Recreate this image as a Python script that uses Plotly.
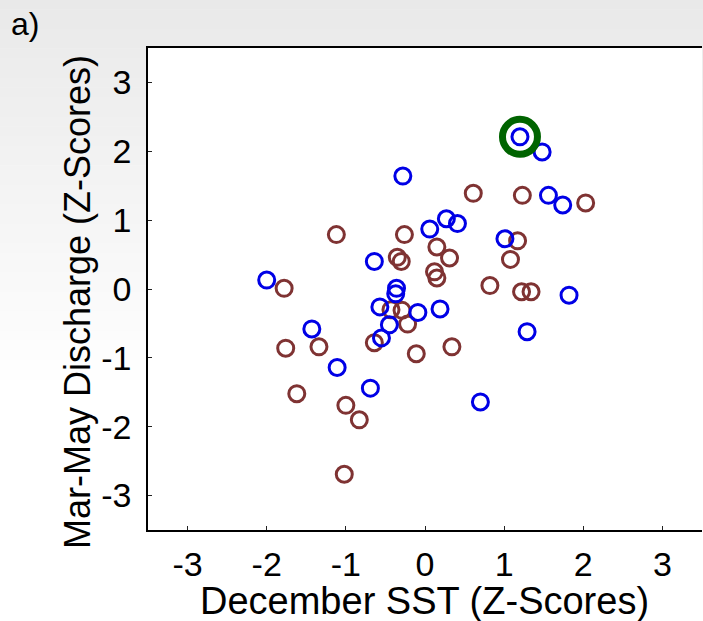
import plotly.graph_objects as go

# Data
blue_x = [1.20, 1.48, 1.56, 1.74, -0.28, 0.06, 0.27, 0.41, 1.01, -0.64, -2.00, -0.36,
          -0.37, -0.57, -0.09, 0.19, -0.45, -0.55, -1.43, -1.11, -0.69, 0.70, 1.29, 1.82]
blue_y = [2.21, 1.99, 1.36, 1.22, 1.64, 0.87, 1.02, 0.95, 0.73, 0.40, 0.13, 0.01,
          -0.07, -0.26, -0.34, -0.29, -0.52, -0.71, -0.58, -1.14, -1.44, -1.64, -0.62, -0.09]

brown_x = [-1.12, -0.26, 0.61, 1.23, 2.03, 0.15, 0.31, -0.35, -0.30, 0.12, 0.15, 1.17,
           1.08, -1.78, 0.82, 1.22, 1.34, -0.43, -0.29, -0.22, -0.64, -0.11, 0.34, -1.76,
           -1.34, -1.62, -1.00, -0.83, -1.02]
brown_y = [0.79, 0.79, 1.39, 1.36, 1.25, 0.61, 0.45, 0.46, 0.40, 0.25, 0.16, 0.70,
           0.43, 0.01, 0.05, -0.04, -0.04, -0.30, -0.31, -0.51, -0.78, -0.94, -0.84, -0.86,
           -0.84, -1.52, -1.69, -1.90, -2.69]

highlight_x = [1.20]
highlight_y = [2.21]

tick_vals = [-3, -2, -1, 0, 1, 2, 3]
tick_text = ["-3", "-2", "-1", "0", "1", "2", "3"]

x_title = "December SST (Z-Scores)"
y_title = "Mar-May Discharge (Z-Scores)"
panel_label = "a)"

FONT = "Liberation Sans, Arial, sans-serif"

fig = go.Figure()
fig.add_trace(go.Scatter(x=brown_x, y=brown_y, mode="markers",
                         marker=dict(symbol="circle-open", size=16, color="#7f3333",
                                     line=dict(width=3, color="#7f3333")),
                         showlegend=False, hoverinfo="skip"))
fig.add_trace(go.Scatter(x=blue_x, y=blue_y, mode="markers",
                         marker=dict(symbol="circle-open", size=16, color="#0000e6",
                                     line=dict(width=3, color="#0000e6")),
                         showlegend=False, hoverinfo="skip"))
fig.add_trace(go.Scatter(x=highlight_x, y=highlight_y, mode="markers",
                         marker=dict(symbol="circle-open", size=35, color="#006400",
                                     line=dict(width=7, color="#006400")),
                         showlegend=False, hoverinfo="skip"))

W, H = 703, 621
L, R, T, B = 148, 1, 48, 91
pw, ph = W - L - R, H - T - B

def px_to_paper_x(px):
    return (px - L) / pw

def px_to_paper_y(py):
    return (H - B - py) / ph

# background vertical gradient (grey at top fading to white)
shapes = []
N = 40
g_end = 390
for i in range(N):
    y0 = g_end * i / N
    y1 = g_end * (i + 1) / N
    t = (i + 0.5) / N
    v = int(round(233 + (255 - 233) * t))
    col = f"rgb({v},{v},{v})"
    shapes.append(dict(type="rect", xref="paper", yref="paper",
                       x0=px_to_paper_x(0), x1=px_to_paper_x(W),
                       y0=px_to_paper_y(y1), y1=px_to_paper_y(y0) + 0.001,
                       fillcolor=col, line=dict(width=0), layer="below"))
shapes.append(dict(type="rect", xref="paper", yref="paper", x0=0, x1=1, y0=0, y1=1,
                   fillcolor="white", line=dict(width=0), layer="below"))

fig.update_layout(
    width=W, height=H,
    margin=dict(l=L, r=R, t=T, b=B, pad=0),
    paper_bgcolor="white", plot_bgcolor="white",
    font=dict(family=FONT, color="black"),
    shapes=shapes,
    xaxis=dict(range=[-3.5, 3.5], tickvals=tick_vals, ticktext=tick_text,
               ticks="inside", ticklen=4, tickwidth=1, tickcolor="#222",
               showline=True, linecolor="black", linewidth=1.5, mirror=True,
               showgrid=False, zeroline=False, tickfont=dict(size=34, family=FONT),
               ticklabelstandoff=3),
    yaxis=dict(range=[-3.5, 3.5], tickvals=tick_vals, ticktext=tick_text,
               ticks="inside", ticklen=4, tickwidth=1, tickcolor="#222",
               showline=True, linecolor="black", linewidth=1.5,
               showgrid=False, zeroline=False, tickfont=dict(size=34, family=FONT),
               ticklabelstandoff=8),
    annotations=[
        dict(text=panel_label, xref="paper", yref="paper",
             x=px_to_paper_x(9), y=px_to_paper_y(4), xanchor="left", yanchor="top",
             showarrow=False, font=dict(size=32, family=FONT, color="black")),
        dict(text=x_title, xref="paper", yref="paper",
             x=px_to_paper_x(424), y=px_to_paper_y(601), xanchor="center", yanchor="middle",
             showarrow=False, font=dict(size=38, family=FONT, color="black")),
        dict(text=y_title, xref="paper", yref="paper", textangle=-90,
             x=px_to_paper_x(77), y=px_to_paper_y(302), xanchor="center", yanchor="middle",
             showarrow=False, font=dict(size=36, family=FONT, color="black")),
    ],
)

fig.write_html("out.html")
